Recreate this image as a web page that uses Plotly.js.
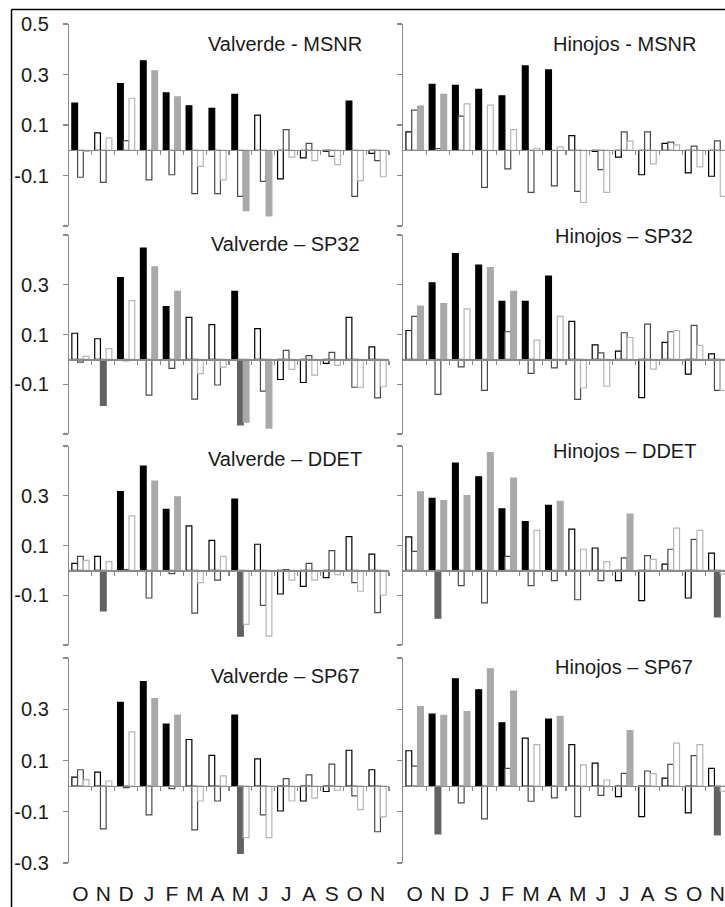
<!DOCTYPE html>
<html>
<head>
<meta charset="utf-8">
<script src="https://cdn.plot.ly/plotly-3.0.1.min.js"></script>
<style>
  html, body { margin: 0; padding: 0; background: #ffffff; }
  #chart { width: 725px; height: 907px; }
</style>
</head>
<body>
<div id="chart"></div>
<script>
// ---------- DATA ----------
const months = ['O','N','D','J','F','M','A','M','J','J','A','S','O','N'];

// Valverde - MSNR
const vMSNR1 = [0.187, 0.069, 0.264, 0.354, 0.227, 0.176, 0.166, 0.221, 0.139, -0.113, -0.030, -0.004, 0.195, -0.012];
const vMSNR2 = [-0.107, -0.127, 0.038, -0.117, -0.097, -0.172, -0.172, -0.183, -0.123, 0.082, 0.027, -0.024, -0.183, -0.041];
const vMSNR3 = [-0.005, 0.049, 0.206, 0.314, 0.211, -0.064, -0.117, -0.239, -0.260, -0.027, -0.041, -0.057, -0.120, -0.105];
const vMSNRsig1 = [0,2,3,4,5,6,7,12];
const vMSNRsig2 = [];
const vMSNRsig3 = [3,4,7,8];

// Hinojos - MSNR
const hMSNR1 = [0.073, 0.261, 0.257, 0.241, 0.215, 0.334, 0.318, 0.058, -0.005, -0.027, -0.097, 0.027, -0.090, -0.103];
const hMSNR2 = [0.159, 0.007, 0.135, -0.147, -0.074, -0.167, -0.141, -0.163, -0.077, 0.073, 0.073, 0.032, 0.016, 0.037];
const hMSNR3 = [0.175, 0.221, 0.184, 0.179, 0.082, 0.008, 0.013, -0.207, -0.167, 0.036, -0.054, 0.021, -0.066, -0.183];
const hMSNRsig1 = [1,2,3,4,5,6];
const hMSNRsig2 = [];
const hMSNRsig3 = [0,1];

// Valverde – SP32
const vSP32_1 = [0.105, 0.083, 0.329, 0.447, 0.212, 0.169, 0.140, 0.273, 0.124, -0.081, -0.093, -0.016, 0.169, 0.050];
const vSP32_2 = [-0.011, -0.185, -0.005, -0.144, -0.036, -0.160, -0.103, -0.263, -0.128, 0.036, 0.015, 0.028, -0.112, -0.155];
const vSP32_3 = [0.012, 0.043, 0.236, 0.372, 0.273, -0.057, -0.031, -0.252, -0.276, -0.040, -0.063, -0.024, -0.112, -0.110];
const vSP32sig1 = [2,3,4,7];
const vSP32sig2 = [1,7];
const vSP32sig3 = [3,4,7,8];

// Hinojos – SP32
const hSP32_1 = [0.116, 0.308, 0.425, 0.379, 0.233, 0.233, 0.335, 0.153, 0.058, 0.033, -0.154, 0.068, -0.059, 0.022];
const hSP32_2 = [0.173, -0.141, -0.030, -0.125, 0.111, -0.056, -0.034, -0.161, 0.026, 0.107, 0.142, 0.111, 0.137, -0.125];
const hSP32_3 = [0.214, 0.224, 0.203, 0.369, 0.273, 0.077, 0.173, -0.115, -0.108, 0.088, -0.039, 0.116, 0.056, -0.125];
const hSP32sig1 = [1,2,3,4,5,6];
const hSP32sig2 = [];
const hSP32sig3 = [0,1,3,4];

// Valverde – DDET
const vDDET1 = [0.028, 0.056, 0.317, 0.419, 0.245, 0.179, 0.121, 0.287, 0.105, -0.095, -0.064, -0.029, 0.136, 0.065];
const vDDET2 = [0.056, -0.163, 0.003, -0.111, -0.013, -0.172, -0.039, -0.264, -0.141, 0.003, 0.028, 0.079, -0.049, -0.170];
const vDDET3 = [0.040, 0.035, 0.219, 0.359, 0.296, -0.049, 0.056, -0.217, -0.264, -0.039, -0.039, -0.017, -0.084, -0.100];
const vDDETsig1 = [2,3,4,7];
const vDDETsig2 = [1,7];
const vDDETsig3 = [3,4];

// Hinojos – DDET
const hDDET1 = [0.135, 0.290, 0.431, 0.376, 0.247, 0.196, 0.261, 0.166, 0.090, -0.041, -0.122, 0.025, -0.111, 0.069];
const hDDET2 = [0.076, -0.192, -0.061, -0.131, 0.056, -0.061, -0.041, -0.118, -0.041, 0.050, 0.059, 0.085, 0.125, -0.187];
const hDDET3 = [0.316, 0.281, 0.301, 0.473, 0.371, 0.161, 0.277, 0.085, 0.035, 0.226, 0.044, 0.170, 0.161, -0.015];
const hDDETsig1 = [1,2,3,4,5,6];
const hDDETsig2 = [1,13];
const hDDETsig3 = [0,1,2,3,4,6,9];

// Valverde – SP67
const vSP67_1 = [0.035, 0.055, 0.327, 0.408, 0.242, 0.182, 0.120, 0.277, 0.106, -0.097, -0.058, -0.021, 0.140, 0.064];
const vSP67_2 = [0.064, -0.167, -0.006, -0.112, -0.010, -0.171, -0.058, -0.263, -0.112, 0.029, 0.044, 0.086, -0.038, -0.178];
const vSP67_3 = [0.025, 0.020, 0.212, 0.342, 0.277, -0.058, 0.040, -0.201, -0.201, -0.058, -0.047, -0.016, -0.092, -0.120];
const vSP67sig1 = [2,3,4,7];
const vSP67sig2 = [7];
const vSP67sig3 = [3,4];

// Hinojos – SP67
const hSP67_1 = [0.138, 0.281, 0.419, 0.376, 0.247, 0.187, 0.262, 0.162, 0.090, -0.041, -0.119, 0.031, -0.104, 0.069];
const hSP67_2 = [0.078, -0.186, -0.065, -0.128, 0.069, -0.059, -0.046, -0.119, -0.036, 0.050, 0.059, 0.085, 0.119, -0.190];
const hSP67_3 = [0.310, 0.276, 0.291, 0.458, 0.371, 0.162, 0.272, 0.083, 0.024, 0.217, 0.049, 0.168, 0.162, -0.020];
const hSP67sig1 = [1,2,3,4,6];
const hSP67sig2 = [1,13];
const hSP67sig3 = [0,1,2,3,4,6,9];

const panelTitles = ['Valverde - MSNR', 'Hinojos - MSNR', 'Valverde – SP32', 'Hinojos – SP32',
                     'Valverde – DDET', 'Hinojos – DDET', 'Valverde – SP67', 'Hinojos – SP67'];
const yTickVals = [-0.3, -0.1, 0.1, 0.3, 0.5];
const yTickTextTop = ['', '-0.1', '0.1', '0.3', '0.5'];
const yTickTextMid = ['', '-0.1', '0.1', '0.3', ''];
const yTickTextBot = ['-0.3', '-0.1', '0.1', '0.3', ''];

// ---------- BUILD ----------
const W = 725, H = 907;
const idx = months.map((m, i) => i);
const panels = [
  {s: [vMSNR1, vMSNR2, vMSNR3], sig: [vMSNRsig1, vMSNRsig2, vMSNRsig3]},
  {s: [hMSNR1, hMSNR2, hMSNR3], sig: [hMSNRsig1, hMSNRsig2, hMSNRsig3]},
  {s: [vSP32_1, vSP32_2, vSP32_3], sig: [vSP32sig1, vSP32sig2, vSP32sig3]},
  {s: [hSP32_1, hSP32_2, hSP32_3], sig: [hSP32sig1, hSP32sig2, hSP32sig3]},
  {s: [vDDET1, vDDET2, vDDET3], sig: [vDDETsig1, vDDETsig2, vDDETsig3]},
  {s: [hDDET1, hDDET2, hDDET3], sig: [hDDETsig1, hDDETsig2, hDDETsig3]},
  {s: [vSP67_1, vSP67_2, vSP67_3], sig: [vSP67sig1, vSP67sig2, vSP67sig3]},
  {s: [hSP67_1, hSP67_2, hSP67_3], sig: [hSP67sig1, hSP67sig2, hSP67sig3]}
];

const fillCol = ['#000000', '#626262', '#a9a9a9'];
const edgeCol = ['#000000', '#4a4a4a', '#b5b5b5'];

// pixel geometry
const rowsPx = [[24, 226], [235, 434], [446, 645], [658, 863]];
const colPx = [[69, 389], [403, 725]];
const colRange = [[-0.5, 13.5], [-0.5, 13.5 - (729 - 725) / 23.3]];
const titleCenter = [285, 624];
const titleMid = [[44, 44], [244, 236], [459, 451], [676, 667]];

const traces = [];
const layout = {
  width: W, height: H,
  margin: {l: 0, r: 0, t: 0, b: 0, pad: 0},
  paper_bgcolor: '#ffffff', plot_bgcolor: 'rgba(0,0,0,0)',
  barmode: 'group', bargap: 0.25, bargroupgap: 0,
  showlegend: false,
  font: {family: '"Liberation Sans", Arial, Helvetica, sans-serif', color: '#1a1a1a', size: 20},
  annotations: [], shapes: []
};

const boundaryTicks = idx.map(i => i + 0.5);

panels.forEach((p, k) => {
  const row = Math.floor(k / 2), col = k % 2;
  const n = k + 1;
  const xa = 'x' + n, ya = 'y' + n;
  const [top, bot] = rowsPx[row];
  const yDom = [1 - bot / H, 1 - top / H];
  const xDom = [colPx[col][0] / W, colPx[col][1] / W];
  const zeroFrac = yDom[0] + (0 - (-0.3)) / 0.8 * (yDom[1] - yDom[0]);

  p.s.forEach((vals, j) => {
    const isSig = idx.map(i => p.sig[j].includes(i));
    traces.push({
      type: 'bar', x: idx, y: vals, xaxis: xa, yaxis: ya,
      marker: {
        color: isSig.map(f => f ? fillCol[j] : '#ffffff'),
        line: {color: isSig.map(f => f ? fillCol[j] : edgeCol[j]), width: 1.2}
      },
      hoverinfo: 'y', showlegend: false
    });
  });

  let tt;
  if (col === 1) tt = ['', '', '', '', ''];
  else if (row === 0) tt = yTickTextTop;
  else if (row === 3) tt = yTickTextBot;
  else tt = yTickTextMid;

  layout['xaxis' + (n === 1 ? '' : n)] = {
    domain: xDom, range: colRange[col], anchor: 'free', position: zeroFrac,
    showline: true, linecolor: '#8a8a8a', linewidth: 1.2,
    ticks: 'outside', ticklen: 4, tickwidth: 1.2, tickcolor: '#8a8a8a',
    tickmode: 'array', tickvals: boundaryTicks, showticklabels: false,
    showgrid: false, zeroline: false, fixedrange: true
  };
  layout['yaxis' + (n === 1 ? '' : n)] = {
    domain: yDom, range: [-0.3, 0.5], anchor: xa,
    showline: true, linecolor: '#8a8a8a', linewidth: 1.2,
    ticks: 'outside', ticklen: 5, tickwidth: 1.2, tickcolor: '#8a8a8a',
    tickmode: 'array', tickvals: yTickVals, ticktext: tt,
    tickfont: {size: 20, color: '#1a1a1a'}, ticklabelstandoff: 10,
    showgrid: false, zeroline: false, fixedrange: true
  };

  layout.annotations.push({
    xref: 'paper', yref: 'paper',
    x: titleCenter[col] / W, y: 1 - titleMid[row][col] / H,
    xanchor: 'center', yanchor: 'middle', showarrow: false,
    text: panelTitles[k], font: {size: 20, color: '#1a1a1a'}
  });
});

// month label axes for the bottom row
[[9, 7], [10, 8]].forEach(([m, base]) => {
  const col = base === 7 ? 0 : 1;
  layout['xaxis' + m] = {
    overlaying: 'x' + base, anchor: 'y' + base, side: 'bottom',
    range: colRange[col], tickmode: 'array', tickvals: idx, ticktext: months,
    ticks: '', showline: false, showgrid: false, zeroline: false,
    tickfont: {size: 21, color: '#1a1a1a'}, ticklabelstandoff: 16, fixedrange: true
  };
  traces.push({type: 'scatter', x: [], y: [], xaxis: 'x' + m, yaxis: 'y' + base,
               hoverinfo: 'skip', showlegend: false});
});

// outer frame (left and top edges)
layout.shapes.push(
  {type: 'line', xref: 'paper', yref: 'paper', x0: 11.5 / W, x1: 11.5 / W, y0: 0, y1: 1 - 9.5 / H,
   line: {color: '#000000', width: 1.5}},
  {type: 'line', xref: 'paper', yref: 'paper', x0: 11.5 / W, x1: 1, y0: 1 - 9.5 / H, y1: 1 - 9.5 / H,
   line: {color: '#000000', width: 1.5}}
);

Plotly.newPlot('chart', traces, layout, {displayModeBar: false, staticPlot: true});
</script>
</body>
</html>
